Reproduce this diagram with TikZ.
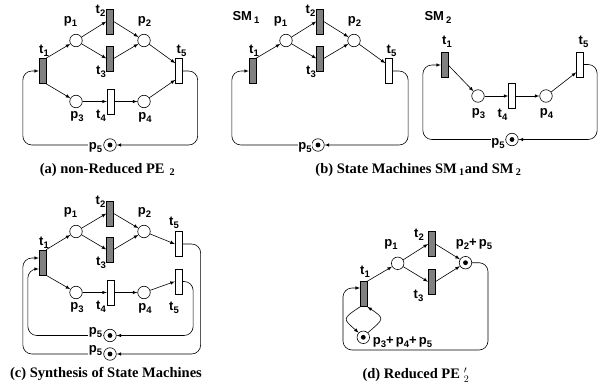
\documentclass[tikz,border=0pt]{standalone}
\usepackage{fontspec}
\setmainfont{Liberation Serif}
\newfontfamily\labfamily{Liberation Sans}
\newcommand{\labfont}{\labfamily\bfseries\fontsize{13}{15}\selectfont}
\newcommand{\capfont}{\bfseries\fontsize{14.5}{16}\selectfont}
\newcommand{\lab}[2]{#1\raisebox{-3pt}{\fontsize{9.5}{9.5}\selectfont #2}}
\tikzset{
    place/.style={shape=circle, draw, minimum size=12.5pt, inner sep=0pt},
    mplace/.style={place, path picture={\fill (path picture bounding box.center) circle (2.4pt);}},
    trans/.style={shape=rectangle, draw, minimum width=6.7pt, minimum height=25pt, inner sep=0pt},
    gtrans/.style={trans, fill=black!50},
    lbl/.style={anchor=center, inner sep=0.5pt, font=\labfont},
    lblw/.style={lbl, fill=white},
    capt/.style={anchor=center, inner sep=0pt, font=\capfont},
    loopy/.style={-latex, rounded corners=9pt}
}
\begin{document}
\begin{tikzpicture}[x=1pt, y=-1pt, line width=0.6pt]
            \useasboundingbox (0,0) rectangle (598,383);
            % (a) non-Reduced net:
            \node[gtrans] (t1a) at (42.5, 71){};
            \node[place] (p1a) at (76, 40.5){};
            \node[gtrans] (t2a) at (110, 21.5){};
            \node[gtrans] (t3a) at (110, 58.5){};
            \node[place] (p2a) at (144, 40.5){};
            \node[trans] (t5a) at (179, 71){};
            \node[place] (p3a) at (76, 101.5){};
            \node[trans] (t4a) at (110.5, 101.5){};
            \node[place] (p4a) at (144, 101.5){};
            \node[mplace] (p5a) at (110, 145){};
            \draw[-latex] (t1a.north east) -- (p1a);
            \draw[-latex] (t1a.south east) -- (p3a);
            \draw[-latex] (p1a) -- (t2a.west);
            \draw[-latex] (p1a) -- (t3a.west);
            \draw[-latex] (t2a.east) -- (p2a);
            \draw[-latex] (t3a.east) -- (p2a);
            \draw[-latex] (p2a) -- ([yshift=-5pt]t5a.north west);
            \draw[-latex] (p3a) -- (t4a);
            \draw[-latex] (t4a) -- (p4a);
            \draw[-latex] (p4a) -- ([yshift=4pt]t5a.south west);
            \draw[loopy] (t5a.east) -- ++(15, 0) |- (p5a.east);
            \draw[loopy] (p5a.west) -| ([xshift=-16pt]t1a.west) -- (t1a.west);
            \node[lbl] (lt1a) at (44, 51){\lab{t}{1}};
            \node[lbl] (lp1a) at (70.5, 21){\lab{p}{1}};
            \node[lbl] (lt2a) at (100.5, 11){\lab{t}{2}};
            \node[lbl] (lp2a) at (144.5, 21){\lab{p}{2}};
            \node[lbl] (lt3a) at (101, 72){\lab{t}{3}};
            \node[lbl] (lt5a) at (181.5, 51){\lab{t}{5}};
            \node[lbl] (lp3a) at (77, 117){\lab{p}{3}};
            \node[lbl] (lt4a) at (101, 116){\lab{t}{4}};
            \node[lbl] (lp4a) at (145, 117){\lab{p}{4}};
            \node[lblw] (lp5a) at (95.5, 148){\lab{p}{5}};
            \node[capt] (capa) at (107.5, 170){(a) non-Reduced PE\hspace{5pt}\textsubscript{2}};
            % (b) state machine SM1:
            \node[gtrans] (t1b) at (252.5, 71){};
            \node[place] (p1b) at (286, 40.5){};
            \node[gtrans] (t2b) at (320, 21.5){};
            \node[gtrans] (t3b) at (320, 58.5){};
            \node[place] (p2b) at (354, 40.5){};
            \node[trans] (t5b) at (389, 71){};
            \node[mplace] (p5b) at (318, 145){};
            \draw[-latex] (t1b.north east) -- (p1b);
            \draw[-latex] (p1b) -- (t2b.west);
            \draw[-latex] (p1b) -- (t3b.west);
            \draw[-latex] (t2b.east) -- (p2b);
            \draw[-latex] (t3b.east) -- (p2b);
            \draw[-latex] (p2b) -- ([yshift=-5pt]t5b.north west);
            \draw[loopy] (t5b.east) -- ++(15.5, 0) |- (p5b.east);
            \draw[loopy] (p5b.west) -| ([xshift=-17pt]t1b.west) -- (t1b.west);
            \node[lbl] (lsm1) at (246, 17.5){\lab{SM\,}{1}};
            \node[lbl] (lt1b) at (254, 51){\lab{t}{1}};
            \node[lbl] (lp1b) at (280.5, 21){\lab{p}{1}};
            \node[lbl] (lt2b) at (310.5, 11){\lab{t}{2}};
            \node[lbl] (lp2b) at (354.5, 21){\lab{p}{2}};
            \node[lbl] (lt3b) at (311, 72){\lab{t}{3}};
            \node[lbl] (lt5b) at (391.5, 51){\lab{t}{5}};
            \node[lblw] (lp5b) at (305, 148){\lab{p}{5}};
            % (b) state machine SM2:
            \node[gtrans] (t1s) at (444.5, 65){};
            \node[place] (p3s) at (478, 96){};
            \node[trans] (t4s) at (512, 96){};
            \node[place] (p4s) at (546, 96){};
            \node[trans] (t5s) at (580, 64.5){};
            \node[mplace] (p5s) at (512, 139.5){};
            \draw[-latex] (t1s.east) -- (p3s);
            \draw[-latex] (p3s) -- (t4s);
            \draw[-latex] (t4s) -- (p4s);
            \draw[-latex] (p4s) -- ([yshift=5pt]t5s.south west);
            \draw[loopy] (t5s.east) -- ++(13.5, 0) |- (p5s.east);
            \draw[loopy] (p5s.west) -| ([xshift=-18pt]t1s.west) -- (t1s.west);
            \node[lbl] (lsm2) at (438, 17.5){\lab{SM\,}{2}};
            \node[lbl] (lt1s) at (447, 42){\lab{t}{1}};
            \node[lbl] (lt5s) at (583.5, 42){\lab{t}{5}};
            \node[lbl] (lp3s) at (478.5, 114){\lab{p}{3}};
            \node[lbl] (lt4s) at (502.5, 114.5){\lab{t}{4}};
            \node[lbl] (lp4s) at (546.5, 113){\lab{p}{4}};
            \node[lblw] (lp5s) at (498, 144){\lab{p}{5}};
            \node[capt] (capb) at (418.5, 170){(b) State Machines SM\,\textsubscript{1}and SM\,\textsubscript{2}};
            % (c) synthesis:
            \node[gtrans] (t1c) at (42.5, 262.5){};
            \node[place] (p1c) at (76, 231.5){};
            \node[gtrans] (t2c) at (110, 213.5){};
            \node[gtrans] (t3c) at (110, 249.5){};
            \node[place] (p2c) at (144, 231.5){};
            \node[trans] (t5c) at (178.5, 244){};
            \node[trans] (t6c) at (178.5, 281.5){};
            \node[place] (p3c) at (76, 292.5){};
            \node[trans] (t4c) at (110.5, 292.5){};
            \node[place] (p4c) at (144, 292.5){};
            \node[mplace] (p5c) at (110, 335.5){};
            \node[mplace] (p6c) at (110, 354){};
            \draw[-latex] (t1c.north east) -- (p1c);
            \draw[-latex] (t1c.south east) -- (p3c);
            \draw[-latex] (p1c) -- (t2c.west);
            \draw[-latex] (p1c) -- (t3c.west);
            \draw[-latex] (t2c.east) -- (p2c);
            \draw[-latex] (t3c.east) -- (p2c);
            \draw[-latex] (p2c) -- (t5c.west);
            \draw[-latex] (p3c) -- (t4c);
            \draw[-latex] (t4c) -- (p4c);
            \draw[-latex] (p4c) -- (t6c.west);
            \draw[loopy] (t5c.east) -- ++(18.5, 0) |- (p6c.east);
            \draw[loopy] (t6c.east) -- ++(11, 0) |- (p5c.east);
            \draw[loopy] (p5c.west) -| ([xshift=-11pt, yshift=-6.5pt]t1c.west) -- ([yshift=-6.5pt]t1c.west);
            \draw[loopy] (p6c.west) -| ([xshift=-16pt, yshift=4.5pt]t1c.west) -- ([yshift=4.5pt]t1c.west);
            \node[lbl] (lt1c) at (44, 242.5){\lab{t}{1}};
            \node[lbl] (lp1c) at (70.5, 212){\lab{p}{1}};
            \node[lbl] (lt2c) at (100.5, 202){\lab{t}{2}};
            \node[lbl] (lp2c) at (144.5, 212.5){\lab{p}{2}};
            \node[lbl] (lt3c) at (101, 263){\lab{t}{3}};
            \node[lbl] (lt5c) at (174, 223){\lab{t}{5}};
            \node[lbl] (lt6c) at (174, 308){\lab{t}{5}};
            \node[lbl] (lp3c) at (77, 308){\lab{p}{3}};
            \node[lbl] (lt4c) at (101, 307){\lab{t}{4}};
            \node[lbl] (lp4c) at (145, 308){\lab{p}{4}};
            \node[lblw] (lp5c) at (95.5, 333){\lab{p}{5}};
            \node[lblw] (lp6c) at (95.5, 351){\lab{p}{5}};
            \node[capt] (capc) at (106, 374){(c) Synthesis of State Machines};
            % (d) reduced net:
            \node[gtrans] (t1d) at (363.7, 294){};
            \node[place] (p1d) at (397.7, 263.3){};
            \node[gtrans] (t2d) at (431.7, 244){};
            \node[gtrans] (t3d) at (431.7, 281.7){};
            \node[mplace] (p25) at (465.5, 262.7){};
            \node[mplace] (p345) at (363.3, 337.3){};
            \coordinate (d1) at (488, 350);
            \coordinate (d2) at (343, 350);
            \draw[-latex] (t1d.north east) -- (p1d);
            \draw[-latex] (p1d) -- (t2d.west);
            \draw[-latex] (p1d) -- (t3d.west);
            \draw[-latex] (t2d.east) -- (p25);
            \draw[-latex] (t3d.east) -- (p25);
            \draw[-latex] (t1d.south west) .. controls +(-18, 12) and +(-16, -14) .. (p345.north west);
            \draw[-latex] (p345.north east) .. controls +(16, -14) and +(18, 12) .. (t1d.south east);
            \draw[loopy] (p25.east) -| (d1) -- (d2) |- ([yshift=6pt]t1d.west);
            \node[lbl] (lt1d) at (365, 271.5){\lab{t}{1}};
            \node[lbl] (lp1d) at (391, 244){\lab{p}{1}};
            \node[lbl] (lt2d) at (419, 235){\lab{t}{2}};
            \node[lbl] (lt3d) at (418.5, 296){\lab{t}{3}};
            \node[lbl] (lp25) at (474, 244){\lab{p}{2}+\,\lab{p}{5}};
            \node[lbl] (lp345) at (402.5, 342){\lab{p}{3}+\,\lab{p}{4}+\,\lab{p}{5}};
            \node[capt] (capd) at (416, 375){(d) Reduced PE\hspace{4pt}$'_{2}$};
        \end{tikzpicture}
\end{document}
